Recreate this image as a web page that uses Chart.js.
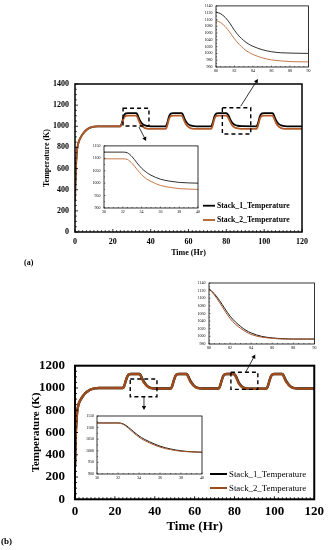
<!DOCTYPE html>
<html><head><meta charset="utf-8">
<script src="https://cdn.jsdelivr.net/npm/chart.js@4.4.1/dist/chart.umd.min.js"></script>
<style>
html,body{margin:0;padding:0;background:#fff;}
#wrap{position:relative;width:329px;height:550px;overflow:hidden;}
canvas{position:absolute;display:block;}
.lbl{position:absolute;font-weight:bold;font-family:'Liberation Serif',serif;color:#000;line-height:1;}
</style></head><body>
<div id="wrap">
  <canvas id="mainA" width="329" height="270" style="left:0;top:0"></canvas>
  <canvas id="mainB" width="329" height="280" style="left:0;top:270px"></canvas>
  <canvas id="insA1" width="116" height="78" style="left:196px;top:0"></canvas>
  <canvas id="insA2" width="118" height="78" style="left:84px;top:140px"></canvas>
  <canvas id="insB1" width="130" height="78" style="left:188px;top:276px"></canvas>
  <canvas id="insB2" width="126" height="73" style="left:80px;top:410px"></canvas>
  <div class="lbl" style="left:24px;top:259px;font-size:8px">(a)</div>
  <div class="lbl" style="left:1px;top:537px;font-size:9px">(b)</div>
</div>
<script>
// ---------------- DATA ----------------
const seriesLabels = ['Stack_1_Temperature', 'Stack_2_Temperature'];

// Panel (a) main
const timeA = [0,0.2,0.4,0.7,1,1.5,2,3,4,5,6,7,8,10,12,
  24,24.5,25,25.5,26,26.5,27,28,32.3,32.8,33.3,33.8,34.3,35,36,37,38,40,
  48,48.5,49,49.5,50,50.5,51,52,56.3,56.8,57.3,57.8,58.3,59,60,61,62,64,
  72,72.5,73,73.5,74,74.5,75,76,80,80.5,81,81.5,82,82.5,83,84,85,86,88,
  96,96.5,97,97.5,98,98.5,99,100,104.3,104.8,105.3,105.8,106.3,107,108,109,110,112,120];
const stack1A = [300,450,570,680,760,820,855,895,925,948,965,978,987,996,1000,
  1000,1015,1045,1080,1105,1118,1123,1125,1125,1118,1098,1075,1056,1036,1018,1008,1003,1000,
  1000,1015,1045,1080,1105,1118,1123,1125,1125,1118,1098,1075,1056,1036,1018,1008,1003,1000,
  1000,1015,1045,1080,1105,1118,1123,1125,1125,1118,1106,1089,1068,1050,1036,1019,1010,1005,1001,
  1000,1015,1045,1080,1105,1118,1123,1125,1125,1118,1098,1075,1056,1036,1018,1008,1003,1000,1000];
const stack2A = [300,450,570,680,760,820,855,895,925,948,965,978,987,996,1000,
  1000,1012,1035,1062,1083,1094,1098,1100,1100,1093,1073,1050,1031,1011,993,983,978,975,
  975,992,1022,1057,1082,1094,1098,1100,1100,1093,1073,1050,1031,1011,993,983,978,975,
  975,992,1022,1057,1082,1094,1098,1100,1100,1093,1081,1064,1043,1025,1011,994,985,980,976,
  975,992,1022,1057,1082,1094,1098,1100,1100,1093,1073,1050,1031,1011,993,983,978,975,975];

// Panel (b) main
const timeB = [0,0.2,0.4,0.7,1,1.5,2,3,4,5,6,7,8,10,12,
  24,24.5,25,25.5,26,26.5,27,28,32.2,32.7,33.2,33.7,34.2,35,36,37,38,40,
  48,48.5,49,49.5,50,50.5,51,52,55.8,56.3,56.8,57.3,57.8,58.6,59.6,60.6,61.6,64,
  72,72.5,73,73.5,74,74.5,75,76,79.5,80,81,82,83,84,85,86,88,
  96,96.5,97,97.5,98,98.5,99,100,103.8,104.3,104.8,105.3,105.8,106.6,107.6,108.6,109.6,112,120];
const stack1B = [300,470,590,690,770,830,865,900,928,950,966,978,987,996,1000,
  1000,1010,1035,1065,1092,1110,1120,1125,1125,1120,1105,1085,1066,1045,1022,1008,1000,995,
  995,1006,1032,1063,1091,1110,1120,1125,1125,1120,1105,1085,1066,1045,1022,1008,1000,995,
  995,1006,1032,1063,1091,1110,1120,1125,1125,1123,1094,1053,1026,1009,1000,996,994,
  995,1006,1032,1063,1091,1110,1120,1125,1125,1120,1105,1085,1066,1045,1022,1008,1000,995,995];
const stack2B = [300,470,590,690,770,830,865,900,928,950,966,978,987,996,1000,
  1000,1010,1035,1065,1092,1110,1120,1125,1125,1117,1099,1078,1060,1040,1018,1005,998,994,
  994,1006,1032,1063,1091,1110,1120,1125,1125,1117,1099,1078,1060,1040,1018,1005,998,994,
  994,1006,1032,1063,1091,1110,1120,1125,1125,1120,1088,1046,1020,1005,998,995,993,
  994,1006,1032,1063,1091,1110,1120,1125,1125,1117,1099,1078,1060,1040,1018,1005,998,994,994];

// Insets
const timeInsA1 = [80,80.5,81,81.5,82,82.5,83,83.5,84,85,86,87,88,90];
const s1InsA1 = [1122,1117,1106,1089,1068,1051,1038,1028,1021,1011,1005,1002,1001,1000];
const s2InsA1 = [1097,1091,1079,1062,1043,1027,1014,1004,997,987,981,978,976,975];

const timeInsA2 = [30,32,32.5,33,33.5,34,34.5,35,36,37,38,39,40];
const s1InsA2 = [1125,1125,1122,1106,1082,1060,1044,1032,1016,1008,1003,1001,1000];
const s2InsA2 = [1098,1098,1095,1079,1056,1034,1018,1007,991,983,978,976,975];

const timeInsB1 = [80,80.5,81,81.5,82,82.5,83,83.5,84,85,86,87,88,90];
const s1InsB1 = [1125,1112,1094,1073,1053,1038,1026,1016,1009,1000,996,994,993,993];
const s2InsB1 = [1125,1109,1089,1067,1047,1032,1021,1012,1005,998,995,993,993,993];

const timeInsB2 = [30,32,32.5,33,33.5,34,34.5,35,36,37,38,39,40];
const s1InsB2 = [1120,1120,1116,1101,1082,1064,1050,1039,1020,1008,1000,996,994];
const s2InsB2 = [1120,1120,1114,1097,1077,1059,1045,1034,1016,1005,998,995,993];

// Axis tick definitions
const mainXTicks = {min:0, max:120, step:20};
const mainAYTicks = {min:0, max:1400, step:200};
const mainBYTicks = {min:0, max:1200, step:200};
const insA1Y = {min:960, max:1140, step:20};
const insA2Y = {min:900, max:1150, step:50};
const insB1Y = {min:980, max:1140, step:20};
const insB2Y = {min:900, max:1150, step:50};
const insTopX = {min:80, max:90, step:2};
const insLowX = {min:30, max:40, step:2};

// ---------------- PLUGINS ----------------
const framePlugin = {
  id:'frame',
  beforeDraw(chart, args, o){
    if(o && o.fill){const a=chart.chartArea,c=chart.ctx;c.save();c.fillStyle=o.fill;c.fillRect(a.left,a.top,a.right-a.left,a.bottom-a.top);c.restore();}
  },
  afterDraw(chart, args, o){
    const a=chart.chartArea,c=chart.ctx,xs=chart.scales.x,ys=chart.scales.y;
    c.save();
    c.strokeStyle='#000';
    c.lineWidth=o.tw||0.8;
    c.beginPath();
    if(o.xMinor){
      const st=xs.options.ticks.stepSize;
      for(let v=xs.min; v<=xs.max+1e-9; v+=o.xMinor){
        const p=xs.getPixelForValue(v);
        const r=(v-xs.min)/st, isMaj=Math.abs(r-Math.round(r))<1e-6;
        const L=isMaj?o.tMaj:o.tMin;
        c.moveTo(p,a.bottom);c.lineTo(p,a.bottom-L);
      }
    }
    if(o.yMinor){
      const st=ys.options.ticks.stepSize;
      for(let v=ys.min; v<=ys.max+1e-9; v+=o.yMinor){
        const p=ys.getPixelForValue(v);
        const r=(v-ys.min)/st, isMaj=Math.abs(r-Math.round(r))<1e-6;
        const L=isMaj?o.tMaj:o.tMin;
        c.moveTo(a.left,p);c.lineTo(a.left+L,p);
      }
    }
    c.stroke();
    c.lineWidth=o.lw||1;
    c.strokeRect(a.left,a.top,a.right-a.left,a.bottom-a.top);
    c.restore();
  }
};

const marksPlugin = {
  id:'marks',
  afterDraw(chart, args, o){
    if(!o) return;
    const c=chart.ctx,xs=chart.scales.x,ys=chart.scales.y;
    c.save();
    c.strokeStyle='#000';c.fillStyle='#000';
    (o.boxes||[]).forEach(b=>{
      const x1=xs.getPixelForValue(b[0]),x2=xs.getPixelForValue(b[1]);
      const y1=ys.getPixelForValue(b[3]),y2=ys.getPixelForValue(b[2]);
      c.setLineDash(o.dash||[4,3]);c.lineWidth=o.bw||1.5;
      c.strokeRect(x1,y1,x2-x1,y2-y1);
    });
    c.setLineDash([]);
    (o.arrows||[]).forEach(r=>{
      const x1=xs.getPixelForValue(r[0]),y1=ys.getPixelForValue(r[1]);
      const x2=xs.getPixelForValue(r[2]),y2=ys.getPixelForValue(r[3]);
      const ang=Math.atan2(y2-y1,x2-x1),h=o.head||4;
      c.lineWidth=o.aw||0.8;
      c.beginPath();c.moveTo(x1,y1);c.lineTo(x2-Math.cos(ang)*h*0.8,y2-Math.sin(ang)*h*0.8);c.stroke();
      c.beginPath();
      c.moveTo(x2,y2);
      c.lineTo(x2-h*Math.cos(ang)+h*0.55*Math.sin(ang),y2-h*Math.sin(ang)-h*0.55*Math.cos(ang));
      c.lineTo(x2-h*Math.cos(ang)-h*0.55*Math.sin(ang),y2-h*Math.sin(ang)+h*0.55*Math.cos(ang));
      c.closePath();c.fill();
    });
    c.restore();
  }
};

const legendPlugin = {
  id:'lgd',
  afterDraw(chart, args, o){
    if(!o) return;
    const c=chart.ctx;
    c.save();
    c.font=o.font;c.textBaseline='middle';c.fillStyle='#000';
    chart.data.datasets.forEach((d,i)=>{
      const y=o.ys[i];
      c.strokeStyle=d.borderColor;c.lineWidth=o.lw;
      c.beginPath();c.moveTo(o.x1,y);c.lineTo(o.x2,y);c.stroke();
      c.fillText(d.label,o.tx,y+0.5);
    });
    c.restore();
  }
};

// ---------------- BUILDER ----------------
const FAM = "'Liberation Serif', serif";
function pts(xs, ys){ return xs.map((x,i)=>({x:x,y:ys[i]})); }
const plainNum = v => String(v);

function build(id, o){
  const cv=document.getElementById(id);
  const W=cv.width,H=cv.height,A=o.area;
  const xTitle = o.xTitle ? {display:true,text:o.xTitle,color:'#000',font:{family:FAM,size:o.xTitleSize,weight:'bold'},padding:{top:0,bottom:o.xTitlePad}} : {display:false};
  const yTitle = o.yTitle ? {display:true,text:o.yTitle,color:'#000',font:{family:FAM,size:o.yTitleSize,weight:'bold'},padding:{top:o.yTitlePad,bottom:0}} : {display:false};
  return new Chart(cv,{
    type:'line',
    data:{datasets:[
      {label:seriesLabels[0],data:pts(o.t,o.s1),borderColor:o.c1,borderWidth:o.lw,pointRadius:0,tension:0.4,cubicInterpolationMode:'monotone',fill:false,order:1},
      {label:seriesLabels[1],data:pts(o.t,o.s2),borderColor:o.c2,borderWidth:o.lw,pointRadius:0,tension:0.4,cubicInterpolationMode:'monotone',fill:false,order:0}
    ]},
    options:{
      responsive:false,animation:false,devicePixelRatio:1,
      layout:{padding:{left:0,top:A.top,right:W-A.right,bottom:0}},
      events:[],
      plugins:{
        legend:{display:false},tooltip:{enabled:false},
        frame:o.frame,marks:o.marks||null,lgd:o.legend||null
      },
      scales:{
        x:{type:'linear',min:o.xt.min,max:o.xt.max,
          ticks:{stepSize:o.xt.step,callback:plainNum,color:'#000',padding:o.xPad,maxRotation:0,autoSkip:false,font:{family:FAM,size:o.tickSize,weight:o.tickWeight}},
          grid:{display:false,drawTicks:false},border:{display:false},
          title:xTitle,
          afterFit:s=>{s.height=H-A.bottom;}},
        y:{type:'linear',min:o.yt.min,max:o.yt.max,
          ticks:{stepSize:o.yt.step,callback:plainNum,color:'#000',padding:o.yPad,autoSkip:false,font:{family:FAM,size:o.tickSize,weight:o.tickWeight}},
          grid:{display:false,drawTicks:false},border:{display:false},
          title:yTitle,
          afterFit:s=>{s.width=A.left;}}
      }
    },
    plugins:[framePlugin,marksPlugin,legendPlugin]
  });
}

// ---------------- CHARTS ----------------
const brownA='#b35a27', brownB='#9c4c1c';

build('mainA',{t:timeA,s1:stack1A,s2:stack2A,c1:'#000',c2:brownA,lw:1.8,
  area:{left:75,top:84,right:302,bottom:232},
  xt:mainXTicks,yt:mainAYTicks,tickSize:8,tickWeight:'bold',xPad:5,yPad:6,
  xTitle:'Time (Hr)',xTitleSize:8,xTitlePad:12,
  yTitle:'Temperature (K)',yTitleSize:8,yTitlePad:42,
  frame:{lw:1.5,tw:0.8,xMinor:2,yMinor:50,tMaj:3,tMin:1.8},
  marks:{boxes:[[25.4,39.1,1003,1170],[77.9,92.9,927,1176]],
         arrows:[[33.8,993,37.6,861],[87.6,1190,96.7,1447]],bw:1.4,dash:[4,3],aw:0.8,head:4},
  legend:{x1:203,x2:215,tx:217,ys:[205.7,220],lw:1.8,font:"bold 7.7px "+FAM}
});

build('mainB',{t:timeB,s1:stack1B,s2:stack2B,c1:'#000',c2:brownB,lw:2.4,
  area:{left:75,top:95.7,right:318,bottom:229.3},
  xt:mainXTicks,yt:mainBYTicks,tickSize:13,tickWeight:'bold',xPad:5,yPad:10,
  xTitle:'Time (Hr)',xTitleSize:13,xTitlePad:15.5,
  yTitle:'Temperature (K)',yTitleSize:11,yTitlePad:30,
  frame:{lw:2,tw:0.9,xMinor:2,yMinor:50,tMaj:3,tMin:2},
  marks:{boxes:[[27.7,41.1,921,1080],[78.2,91.7,987,1141]],
         arrows:[[34.6,921,34.6,802],[85.6,1141,90.4,1301]],bw:1.4,dash:[4,3],aw:0.8,head:4},
  legend:{x1:210,x2:227,tx:229,ys:[204,218],lw:2,font:"8.8px "+FAM}
});

build('insA1',{t:timeInsA1,s1:s1InsA1,s2:s2InsA1,c1:'#1a1a1a',c2:'#c06a35',lw:0.9,
  area:{left:20,top:5,right:113,bottom:67},
  xt:insTopX,yt:insA1Y,tickSize:4,tickWeight:'normal',xPad:1.6,yPad:3.5,
  frame:{fill:'#fff',lw:0.8,tw:0.5,xMinor:0.5,yMinor:10,tMaj:1.5,tMin:1}
});
build('insA2',{t:timeInsA2,s1:s1InsA2,s2:s2InsA2,c1:'#1a1a1a',c2:'#c06a35',lw:0.9,
  area:{left:20,top:5,right:114,bottom:68},
  xt:insLowX,yt:insA2Y,tickSize:4,tickWeight:'normal',xPad:1.6,yPad:3.5,
  frame:{fill:'#fff',lw:0.8,tw:0.5,xMinor:0.5,yMinor:25,tMaj:1.5,tMin:1}
});
build('insB1',{t:timeInsB1,s1:s1InsB1,s2:s2InsB1,c1:'#1a1a1a',c2:'#a85528',lw:1,
  area:{left:21,top:7,right:127,bottom:68},
  xt:insTopX,yt:insB1Y,tickSize:4,tickWeight:'normal',xPad:1.6,yPad:3.5,
  frame:{fill:'#fff',lw:0.8,tw:0.5,xMinor:0.5,yMinor:10,tMaj:1.5,tMin:1}
});
build('insB2',{t:timeInsB2,s1:s1InsB2,s2:s2InsB2,c1:'#1a1a1a',c2:'#a85528',lw:1,
  area:{left:17,top:6,right:122,bottom:64},
  xt:insLowX,yt:insB2Y,tickSize:4,tickWeight:'normal',xPad:1.6,yPad:3,
  frame:{fill:'#fff',lw:0.8,tw:0.5,xMinor:0.5,yMinor:25,tMaj:1.5,tMin:1}
});
</script>
</body></html>
